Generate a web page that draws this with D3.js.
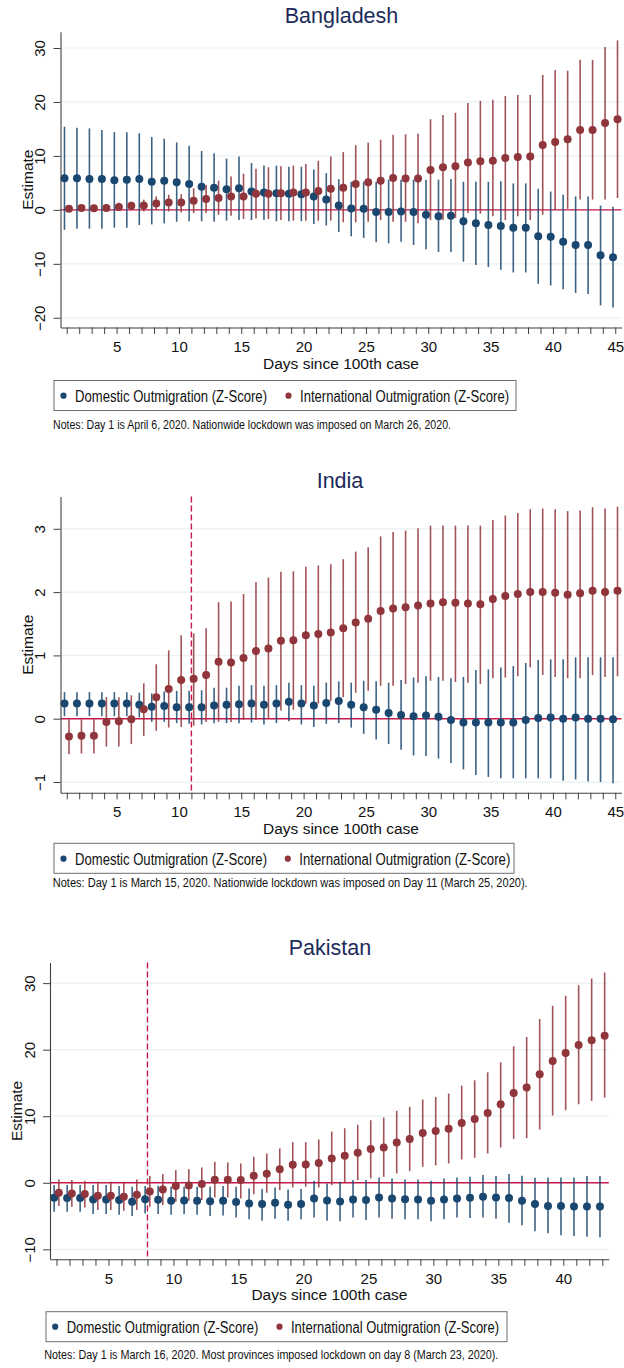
<!DOCTYPE html>
<html><head><meta charset="utf-8">
<script src="https://cdn.jsdelivr.net/npm/d3@7"></script>
<style>
body{margin:0;background:#fff}
svg{display:block}
text{font-family:"Liberation Sans",Arial,Helvetica,sans-serif}
</style>
</head><body>
<svg id="chart" width="624" height="1368"></svg>
<script>
// ---------------- DATA ----------------
const seriesNames = ["Domestic Outmigration (Z-Score)", "International Outmigration (Z-Score)"];

// Bangladesh
const bdDays = [1,2,3,4,5,6,7,8,9,10,11,12,13,14,15,16,17,18,19,20,21,22,23,24,25,26,27,28,29,30,31,32,33,34,35,36,37,38,39,40,41,42,43,44,45];
const bdDomEst = [5.86,5.86,5.7,5.7,5.5,5.6,5.7,5.2,5.4,5.1,4.8,4.3,4.1,3.8,4.0,3.4,3.2,3.1,3.0,2.9,2.5,1.9,0.8,0.25,0.2,-0.4,-0.4,-0.3,-0.4,-0.9,-1.2,-1.1,-2.1,-2.5,-2.8,-3.0,-3.3,-3.3,-4.9,-5.0,-5.9,-6.5,-6.5,-8.4,-8.8];
const bdDomHi = [15.4,15.2,15.1,14.8,14.4,14.4,14.2,13.5,13.2,12.5,11.9,10.9,10.5,9.5,9.9,8.7,8.2,8.2,8.0,8.0,7.5,6.8,5.7,5.2,5.2,5.2,5.6,5.6,5.6,5.6,5.6,5.7,5.2,5.2,5.2,5.3,4.9,4.9,3.9,3.4,2.8,2.5,2.5,0.8,0.6];
const bdDomLo = [-3.7,-3.5,-3.5,-3.5,-3.3,-3.3,-2.8,-2.7,-2.5,-2.2,-2.1,-2.1,-2.2,-2.0,-1.9,-1.9,-1.9,-2.1,-2.1,-2.1,-2.6,-2.9,-4.1,-4.9,-5.2,-6.0,-6.2,-5.9,-6.5,-7.3,-7.8,-7.8,-9.6,-10.2,-10.6,-11.1,-11.6,-11.6,-13.7,-14.0,-14.7,-15.4,-15.6,-17.7,-18.1];
const bdIntEst = [0.2,0.35,0.3,0.35,0.55,0.75,0.8,1.2,1.35,1.35,1.7,2.0,2.2,2.5,2.5,3.0,3.0,3.1,3.2,3.2,3.5,3.9,4.1,4.8,5.1,5.4,5.9,5.8,5.8,7.4,7.9,8.1,8.8,9.0,9.1,9.6,9.8,9.9,12.0,12.6,13.1,14.8,14.8,16.1,16.8];
const bdIntHi = [0.7,0.9,0.9,1.0,1.3,1.5,1.9,2.5,2.8,2.9,4.0,4.6,5.4,6.2,6.7,7.6,7.9,8.1,8.2,8.5,9.1,9.9,10.7,12.0,12.5,13.0,13.9,14.0,14.1,16.8,17.6,18.0,19.8,20.2,20.4,21.1,21.3,21.3,25.0,25.9,25.8,27.8,27.8,30.2,31.4];
const bdIntLo = [-0.3,-0.2,-0.3,-0.3,-0.2,-0.1,-0.3,0.0,-0.3,-0.5,-0.6,-0.6,-0.9,-1.1,-1.7,-1.6,-1.7,-1.9,-2.0,-2.0,-2.0,-2.0,-2.3,-2.3,-2.2,-1.9,-2.2,-2.2,-2.5,-1.9,-1.9,-1.5,-0.6,-0.7,-1.2,-1.9,-1.2,-1.9,-0.9,0.0,0.2,1.9,1.9,1.9,2.2];
const bdYTicks = [-20,-10,0,10,20,30];
const bdYRange = [-21.8, 33];
const bdXLabels = [5,10,15,20,25,30,35,40,45];
const bdNote = "Notes: Day 1 is April 6, 2020. Nationwide lockdown was imposed on March 26, 2020.";

// India
const inDays = [1,2,3,4,5,6,7,8,9,10,11,12,13,14,15,16,17,18,19,20,21,22,23,24,25,26,27,28,29,30,31,32,33,34,35,36,37,38,39,40,41,42,43,44,45];
const inDomEst = [0.24,0.24,0.24,0.24,0.24,0.24,0.22,0.19,0.2,0.18,0.18,0.18,0.21,0.22,0.23,0.24,0.22,0.24,0.27,0.24,0.21,0.25,0.28,0.22,0.18,0.14,0.09,0.06,0.04,0.05,0.03,-0.02,-0.06,-0.06,-0.06,-0.06,-0.06,-0.02,0.01,0.02,0.0,0.02,0.0,0.0,-0.01];
const inDomHi = [0.42,0.42,0.42,0.42,0.42,0.42,0.41,0.40,0.43,0.44,0.44,0.45,0.49,0.49,0.52,0.53,0.52,0.53,0.57,0.53,0.52,0.57,0.59,0.57,0.6,0.59,0.57,0.61,0.65,0.67,0.66,0.64,0.66,0.77,0.78,0.81,0.83,0.88,0.93,0.94,0.94,0.97,0.97,0.97,0.97];
const inDomLo = [0.04,0.04,0.04,0.04,0.04,0.04,0.02,-0.05,-0.05,-0.07,-0.08,-0.09,-0.07,-0.07,-0.07,-0.06,-0.09,-0.07,-0.04,-0.09,-0.13,-0.08,-0.07,-0.14,-0.24,-0.33,-0.4,-0.49,-0.58,-0.59,-0.63,-0.7,-0.8,-0.89,-0.92,-0.94,-0.94,-0.94,-0.94,-0.94,-0.98,-0.96,-0.99,-1.0,-1.02];
const inIntEst = [-0.28,-0.27,-0.27,-0.05,-0.04,-0.01,0.15,0.34,0.47,0.61,0.63,0.69,0.9,0.89,0.96,1.07,1.11,1.23,1.24,1.32,1.34,1.36,1.43,1.52,1.58,1.7,1.74,1.76,1.79,1.82,1.84,1.83,1.82,1.81,1.89,1.94,1.97,2.0,2.0,1.99,1.96,1.98,2.02,2.0,2.02];
const inIntHi = [-0.01,-0.01,-0.01,0.34,0.34,0.37,0.56,0.86,1.08,1.32,1.35,1.43,1.84,1.85,1.97,2.16,2.23,2.32,2.33,2.4,2.42,2.44,2.52,2.64,2.71,2.88,2.95,2.97,3.01,3.05,3.05,3.05,3.05,3.05,3.14,3.21,3.25,3.31,3.32,3.31,3.28,3.29,3.34,3.32,3.35];
const inIntLo = [-0.56,-0.55,-0.55,-0.44,-0.44,-0.4,-0.27,-0.19,-0.14,-0.13,-0.11,-0.05,-0.05,-0.05,-0.02,-0.02,0.0,0.13,0.14,0.24,0.24,0.28,0.34,0.41,0.44,0.52,0.52,0.55,0.57,0.6,0.6,0.58,0.57,0.55,0.64,0.65,0.67,0.81,0.69,0.66,0.64,0.64,0.69,0.66,0.67];
const inYTicks = [-1,0,1,2,3];
const inYRange = [-1.17, 3.51];
const inXLabels = [5,10,15,20,25,30,35,40,45];
const inLockDay = 11;
const inNote = "Notes: Day 1 is March 15, 2020. Nationwide lockdown was imposed on Day 11 (March 25, 2020).";

// Pakistan
const pkDays = [1,2,3,4,5,6,7,8,9,10,11,12,13,14,15,16,17,18,19,20,21,22,23,24,25,26,27,28,29,30,31,32,33,34,35,36,37,38,39,40,41,42,43];
const pkDomEst = [-2.26,-2.3,-2.3,-2.5,-2.5,-2.6,-2.86,-2.46,-2.56,-2.7,-2.66,-2.7,-2.76,-2.7,-2.9,-3.1,-3.2,-3.0,-3.3,-3.2,-2.36,-2.66,-2.8,-2.5,-2.6,-2.2,-2.36,-2.46,-2.5,-2.7,-2.5,-2.36,-2.26,-2.1,-2.2,-2.3,-2.7,-3.2,-3.5,-3.5,-3.56,-3.56,-3.56];
const pkDomHi = [-0.35,-0.35,-0.35,-0.35,-0.35,-0.5,-0.6,-0.5,-0.45,-0.6,-0.6,-0.6,-0.6,-0.5,-0.6,-0.85,-0.95,-0.7,-1.0,-0.95,0.3,-0.1,0.15,0.4,0.4,0.8,0.65,0.5,0.5,0.3,0.65,0.8,0.9,1.15,1.0,1.3,1.05,0.75,0.8,0.8,0.8,1.0,1.0];
const pkDomLo = [-4.36,-4.36,-4.36,-4.7,-4.7,-4.8,-5.0,-4.6,-4.7,-4.8,-4.7,-4.8,-5.0,-4.9,-5.2,-5.5,-5.7,-5.4,-5.7,-5.5,-5.2,-5.7,-5.8,-5.2,-5.6,-5.2,-5.4,-5.5,-5.5,-5.8,-5.5,-5.2,-5.3,-5.2,-5.4,-6.0,-6.4,-7.3,-7.6,-7.9,-8.0,-8.1,-8.2];
const pkIntEst = [-1.5,-1.6,-1.7,-1.95,-1.95,-2.1,-1.8,-1.3,-1.0,-0.5,-0.4,-0.2,0.45,0.45,0.4,1.05,1.35,2.05,2.7,2.76,2.96,3.66,4.06,4.5,5.06,5.3,6.06,6.57,7.47,7.77,8.1,9.0,9.57,10.5,11.8,13.5,14.3,16.3,18.3,19.5,20.7,21.4,22.1];
const pkIntHi = [0.5,0.4,0.3,0.15,0.15,0.05,0.5,1.0,1.3,1.9,2.05,2.3,3.15,3.05,2.9,3.9,4.4,5.16,6.1,6.1,6.5,7.7,8.2,8.7,9.4,9.8,10.8,11.4,12.5,12.9,13.4,14.6,15.4,16.6,18.1,20.5,21.9,24.6,26.6,28.1,29.7,30.7,31.6];
const pkIntLo = [-3.5,-3.6,-3.7,-4.1,-4.1,-4.2,-4.1,-3.6,-3.36,-2.86,-2.7,-2.6,-2.2,-2.2,-2.36,-1.7,-1.5,-1.1,-0.7,-0.6,-0.7,-0.35,0.05,0.4,0.65,0.9,1.4,1.75,2.4,2.6,2.9,3.5,3.76,4.4,5.3,6.6,6.7,8.0,10.1,10.9,11.8,12.3,12.8];
const pkYTicks = [-10,0,10,20,30];
const pkYRange = [-11.5, 33.1];
const pkXLabels = [5,10,15,20,25,30,35,40];
const pkLockDay = 8;
const pkNote = "Notes: Day 1 is March 16, 2020. Most provinces imposed lockdown on day 8 (March 23, 2020).";

// ---------------- STYLE / LAYOUT ----------------
const C = {blue:"#1a476f", red:"#90353b", line:"#c8184a", grid:"#e9f1f3", axis:"#404040", title:"#1c2b5a", text:"#111"};

const panels = [
  {title:"Bangladesh", days:bdDays, dom:[bdDomEst,bdDomLo,bdDomHi], intl:[bdIntEst,bdIntLo,bdIntHi],
   yTicks:bdYTicks, yRange:bdYRange, xLabels:bdXLabels, lockDay:null, note:bdNote,
   L:60.5, R:621.5, T:31.8, B:327.5, titleX:341.5, titleY:23,
   box:[54,380.5,516,410.5], t1x:75, t1w:192, t2x:300, t2w:209, legY:401.5, noteX:53, noteW:398, noteY:429},
  {title:"India", days:inDays, dom:[inDomEst,inDomLo,inDomHi], intl:[inIntEst,inIntLo,inIntHi],
   yTicks:inYTicks, yRange:inYRange, xLabels:inXLabels, lockDay:inLockDay, note:inNote,
   L:60.5, R:621.5, T:496.5, B:792.8, titleX:340, titleY:488,
   box:[54,843.3,514,873.3], t1x:75, t1w:192, t2x:299.3, t2w:211, legY:864.5, noteX:52.7, noteW:475, noteY:887},
  {title:"Pakistan", days:pkDays, dom:[pkDomEst,pkDomLo,pkDomHi], intl:[pkIntEst,pkIntLo,pkIntHi],
   yTicks:pkYTicks, yRange:pkYRange, xLabels:pkXLabels, lockDay:pkLockDay, note:pkNote,
   L:50, R:608.8, T:962.5, B:1259.3, titleX:330, titleY:955,
   box:[46,1311.7,507,1341.7], t1x:66.7, t1w:191.6, t2x:291, t2w:208, legY:1332.5, noteX:44.3, noteW:454, noteY:1359}
];

const svg = d3.select("#chart");
svg.append("rect").attr("width",624).attr("height",1368).attr("fill","#fff");

panels.forEach(p => {
  const n = p.days.length;
  const x = d3.scaleLinear().domain([0.5, n + 0.5]).range([p.L, p.R]);
  const y = d3.scaleLinear().domain(p.yRange).range([p.B, p.T]);
  const g = svg.append("g");
  const off = 0.18;

  // gridlines
  g.selectAll(".grid").data(p.yTicks).join("line")
    .attr("x1", p.L).attr("x2", p.R)
    .attr("y1", d => y(d)).attr("y2", d => y(d))
    .attr("stroke", C.grid).attr("stroke-width", 1.2);

  // zero line
  g.append("line").attr("x1", p.L).attr("x2", p.R)
    .attr("y1", y(0)).attr("y2", y(0))
    .attr("stroke", C.line).attr("stroke-width", 1.4);

  // lockdown line
  if (p.lockDay !== null) {
    g.append("line").attr("x1", x(p.lockDay)).attr("x2", x(p.lockDay))
      .attr("y1", p.T).attr("y2", p.B)
      .attr("stroke", C.line).attr("stroke-width", 1.4)
      .attr("stroke-dasharray", "6,3");
  }

  const series = [
    {vals:p.dom, color:C.blue, dx:-off},
    {vals:p.intl, color:C.red, dx:off}
  ];
  series.forEach(s => {
    const [est, lo, hi] = s.vals;
    const rows = p.days.map((d,i) => ({d, e:est[i], lo:lo[i], hi:hi[i]}));
    g.append("g").selectAll("line").data(rows).join("line")
      .attr("x1", r => x(r.d + s.dx)).attr("x2", r => x(r.d + s.dx))
      .attr("y1", r => y(r.lo)).attr("y2", r => y(r.hi))
      .attr("stroke", s.color).attr("stroke-width", 1.6).attr("stroke-opacity", 0.85);
    g.append("g").selectAll("circle").data(rows).join("circle")
      .attr("cx", r => x(r.d + s.dx)).attr("cy", r => y(r.e))
      .attr("r", 4).attr("fill", s.color);
  });

  // x axis
  const xa = g.append("g").attr("transform", `translate(0,${p.B})`)
    .call(d3.axisBottom(x).tickValues(p.days).tickSize(6.5).tickSizeOuter(0)
      .tickFormat(d => p.xLabels.includes(d) ? d : ""));
  xa.select(".domain").attr("stroke", C.axis).attr("stroke-width", 1.1);
  xa.selectAll(".tick line").attr("stroke", C.axis).attr("stroke-width", 1);
  xa.selectAll(".tick text").attr("y", 24.5).attr("dy", null)
    .attr("font-size", 15).attr("fill", C.text)
    .style("font-family", '"Liberation Sans",Arial,sans-serif');

  // y axis
  const ya = g.append("g").attr("transform", `translate(${p.L},0)`)
    .call(d3.axisLeft(y).tickValues(p.yTicks).tickSize(7).tickSizeOuter(0).tickFormat(d3.format("d")));
  ya.select(".domain").attr("stroke", C.axis).attr("stroke-width", 1.1);
  ya.selectAll(".tick line").attr("stroke", C.axis).attr("stroke-width", 1);
  ya.selectAll(".tick text").attr("x", null).attr("dy", null)
    .attr("text-anchor", "middle").attr("transform", "translate(-15.5,0) rotate(-90)")
    .attr("font-size", 15).attr("fill", C.text)
    .style("font-family", '"Liberation Sans",Arial,sans-serif');

  // axis titles
  g.append("text").attr("transform", `translate(${p.L - 28},${(p.T + p.B) / 2}) rotate(-90)`)
    .attr("text-anchor", "middle").attr("font-size", 15.5).attr("fill", C.text).text("Estimate");
  g.append("text").attr("x", (p.L + p.R) / 2).attr("y", p.B + 41)
    .attr("text-anchor", "middle").attr("font-size", 15.5).attr("fill", C.text).text("Days since 100th case");

  // title
  g.append("text").attr("x", p.titleX).attr("y", p.titleY)
    .attr("text-anchor", "middle").attr("font-size", 21.5).attr("fill", C.title).text(p.title);

  // legend
  const [bx0, by0, bx1, by1] = p.box;
  g.append("rect").attr("x", bx0).attr("y", by0).attr("width", bx1 - bx0).attr("height", by1 - by0)
    .attr("fill", "#fff").attr("stroke", "#6e6e6e").attr("stroke-width", 1);
  [[p.t1x, p.t1w, C.blue, seriesNames[0]], [p.t2x, p.t2w, C.red, seriesNames[1]]].forEach(([tx, tw, col, label]) => {
    g.append("circle").attr("cx", tx - 11.5).attr("cy", p.legY - 5.8).attr("r", 3.1).attr("fill", col);
    g.append("text").attr("x", tx).attr("y", p.legY).attr("font-size", 16).attr("fill", C.text)
      .attr("textLength", tw).attr("lengthAdjust", "spacingAndGlyphs").text(label);
  });

  // note
  g.append("text").attr("x", p.noteX).attr("y", p.noteY).attr("font-size", 12).attr("fill", C.text)
    .attr("textLength", p.noteW).attr("lengthAdjust", "spacingAndGlyphs").text(p.note);
});
</script>
</body></html>
